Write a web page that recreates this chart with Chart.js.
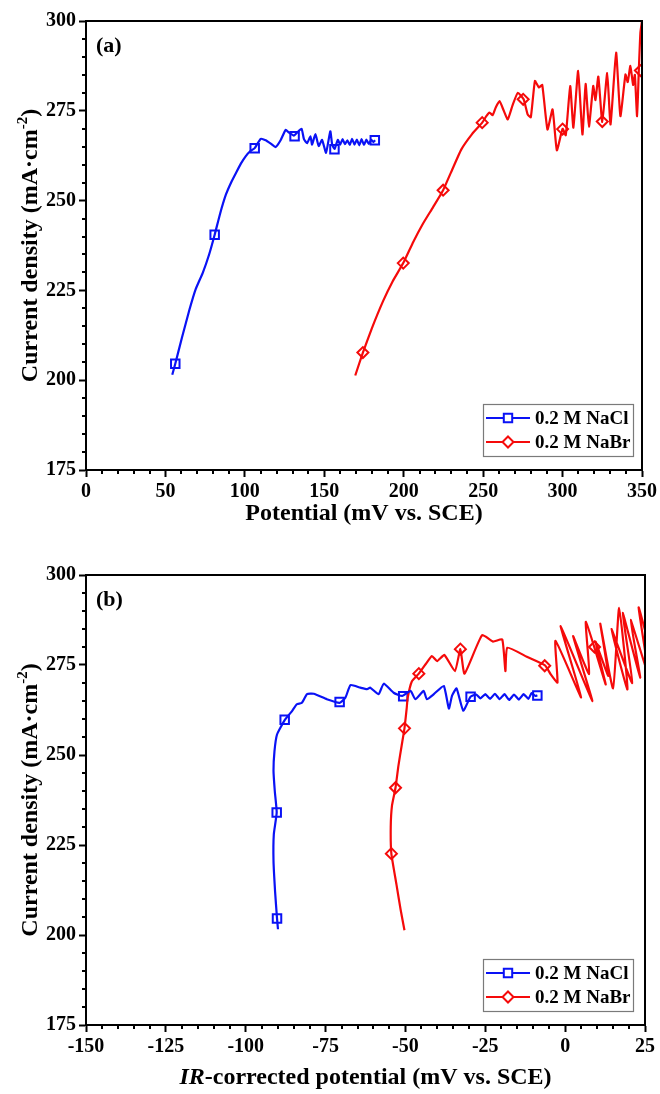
<!DOCTYPE html>
<html>
<head>
<meta charset="utf-8">
<script src="https://cdn.jsdelivr.net/npm/chart.js@4.4.1/dist/chart.umd.min.js"></script>
<style>
html, body { margin: 0; padding: 0; background: #fff; }
#wrap { position: relative; width: 660px; height: 1094px; }
canvas { position: absolute; left: 0; }
</style>
</head>
<body>
<div id="wrap">
  <canvas id="chartA" width="660" height="547" style="top:0"></canvas>
  <canvas id="chartB" width="660" height="547" style="top:547px"></canvas>
</div>
<script>
// axis ticks
const currentTicks = [175, 200, 225, 250, 275, 300];
const potentialTicks = [0, 50, 100, 150, 200, 250, 300, 350];
const irPotentialTicks = [-150, -125, -100, -75, -50, -25, 0, 25];
const seriesNames = ["0.2 M NaCl", "0.2 M NaBr"];

// (a) 0.2 M NaCl, potential vs current density
const naclPotA = [54.3, 56.2, 60.5, 65.1, 69, 73.5, 77.5, 81, 84.5, 88.1, 91.5, 94.4, 97.5, 100.6, 103.5, 106.2,
    110, 113.1, 116.5, 119.4, 122.5, 125.7, 127.8, 130.9, 133, 135.7, 137.2, 139.2, 141.3, 142.3, 144.4, 146.5,
    148.6, 151.1, 153.8, 155, 156.5, 158.5, 160, 161.5, 163, 164.5, 166, 167.5, 169, 170.5, 172, 173.5, 175,
    176.5, 178, 179.5, 181, 182];
const naclCurA = [201.5, 204.6, 212, 219.6, 225.3, 229.9, 235, 240.5, 246.5, 251.7, 255.2, 257.7, 260.3, 262.4, 263.8, 264.6,
    267.2, 266.8, 265.8, 264.9, 266.8, 269.7, 268.9, 268.1, 269, 270, 267.1, 266, 267.9, 265.6, 268.5, 265.2,
    266.9, 263.3, 269.3, 265.5, 264.4, 266.9, 265.6, 267.1, 265.7, 266.8, 265.5, 267.2, 265.6, 267, 265.4, 267.1, 265.5,
    267, 265.8, 266.9, 266.3, 266.8];
const naclMarkPotA = [56.2, 81, 106.2, 131.3, 156.4, 181.8];
const naclMarkCurA = [204.6, 240.5, 264.6, 267.9, 264.3, 266.8];

// (a) 0.2 M NaBr
const nabrPotA = [169.5, 174.3, 180, 187, 193, 199.7, 206, 212, 218.5, 224.8, 230.5, 236.2, 243, 249.4, 252, 254, 256, 258,
    260.3, 263, 265.5, 268.5, 271.8, 275.5, 278, 280, 282.6, 285.1, 287.2, 290.5, 293.7, 296.4, 300, 302, 304.8, 306.8,
    309.8, 312.5, 314.5, 316.6, 319.3, 320.7, 322.5, 325, 328.1, 330.2, 333.7, 336.4, 339.6, 341, 342.7, 344.4, 345.5,
    346.9, 348, 349, 350];
const nabrCurA = [201.3, 207.7, 214.5, 222, 227.5, 232.6, 238.5, 243.5, 248.2, 252.9, 258.6, 264.2, 268.5, 271.7, 273.5, 274.5, 273.8, 276,
    277.7, 275, 272.6, 276.5, 280, 278.2, 274, 273.2, 283.3, 281.5, 282.2, 269.8, 275.4, 264, 270, 268.2, 281.9, 270.3,
    286.1, 268.4, 282.5, 270.6, 281.9, 278, 284.5, 271.9, 285.5, 271.2, 291.2, 273.5, 285.1, 283, 287.5, 282.2, 285,
    273.5, 286.3, 296.8, 300];
const nabrMarkPotA = [174.3, 199.7, 224.8, 249.4, 275.2, 300, 325, 349];
const nabrMarkCurA = [207.7, 232.6, 252.9, 271.7, 278.2, 269.9, 272, 286.2];

// (b) 0.2 M NaCl, IR-corrected potential vs current density
const naclPotB = [-89.9, -90.2, -90.8, -91.3, -91.2, -90.3, -90.9, -91.3, -91, -90.2, -87.8, -85.5, -84, -82.4, -80.8, -78.7,
    -74.6, -70.6, -68.8, -67.2, -64.1, -62, -61, -58.4, -56.8, -53.7, -51, -48.4, -46.9, -44.3, -43.3, -41.1, -38, -36.4,
    -35.4, -34, -31.9, -29.6, -27.8, -26.5, -25, -23.5, -22, -20.5, -19, -17.5, -16, -14.5, -13, -11.5, -10.5, -9.3, -8.7];
const naclCurB = [201.6, 204.6, 212, 220.6, 228, 234, 240, 245.6, 251, 255.7, 259.7, 262.2, 264.1, 264.5, 266.9, 267,
    265.5, 264.5, 265.9, 269.4, 268.7, 268.3, 268.7, 266.9, 269.8, 267.3, 266.4, 267.8, 265.5, 267.8, 265.5, 266.9, 269.2, 262.9,
    266.5, 268.5, 262.3, 266.2, 266.8, 265.7, 266.9, 265.6, 267, 265.5, 266.9, 265.3, 266.8, 265.4, 266.9, 265.6, 267.2, 266.4, 266.6];
const naclMarkPotB = [-90.2, -90.3, -87.8, -70.6, -50.7, -29.6, -8.7];
const naclMarkCurB = [204.6, 234, 259.8, 264.7, 266.3, 266.2, 266.5];

// (b) 0.2 M NaBr
const nabrPotB = [-50.3, -51.5, -52.8, -54.4, -54.6, -54.2, -53.1, -52.2, -51.2, -50.3, -49.6, -49.3, -48, -45.8, -43.7, -41.7,
    -40.1, -37.8, -34.5, -32.8, -31.5, -26, -22.6, -19.7, -18.7, -18.1, -12, -6.3, -4.5, -2.4,
    -3, 5, -1.4, 8.5, 2.5, 7.5, 6.5, 12.7, 9.5, 13.5, 11, 15, 16.9, 19.5, 14.5, 21, 18, 23.5, 20.5, 26, 23, 27];
const nabrCurB = [201.3, 207, 214, 222.6, 230, 236, 240.9, 247, 252.5, 257.4, 263, 265.9, 270.4, 272.6, 275.2, 277.5,
    276.1, 277.8, 273.3, 279.4, 272.6, 283.3, 281.5, 282.1, 273.3, 279.8, 277.3, 274.9, 272.4, 270.1,
    281.7, 266, 285.8, 265, 283, 272.5, 287, 269.6, 281.5, 272, 286.5, 268.5, 290.9, 268.2, 285, 270, 289.5, 271.5, 287.5, 272.5, 291, 278];
const nabrMarkPotB = [-54.4, -53.1, -50.3, -45.8, -32.8, -6.4, 9.2];
const nabrMarkCurB = [222.6, 240.9, 257.4, 272.6, 279.4, 274.8, 280];

const BLUE = "#0a12f5";
const RED = "#f50a0a";
const SERIF = "'Liberation Serif', 'Times New Roman', serif";

function toPoints(xs, ys) {
    return xs.map((x, i) => ({ x, y: ys[i] }));
}

function lineSet(xs, ys, color) {
    return {
        data: toPoints(xs, ys),
        showLine: true,
        borderColor: color,
        borderWidth: 2.2,
        borderJoinStyle: "round",
        pointRadius: 0,
        tension: 0.15,
    };
}

function markerSet(xs, ys, color, style) {
    return {
        data: toPoints(xs, ys),
        showLine: false,
        pointStyle: style,
        pointRadius: style === "rect" ? 6 : 5.5,
        pointBorderWidth: 2,
        pointBorderColor: color,
        pointBackgroundColor: "#fff",
        pointHoverRadius: 6,
    };
}

function drawSymbol(ctx, style, x, y, color) {
    ctx.save();
    ctx.strokeStyle = color;
    ctx.fillStyle = "#fff";
    ctx.lineWidth = 2;
    ctx.beginPath();
    if (style === "rect") {
        ctx.rect(x - 4.2, y - 4.2, 8.4, 8.4);
    } else {
        ctx.moveTo(x, y - 5.5);
        ctx.lineTo(x + 5.5, y);
        ctx.lineTo(x, y + 5.5);
        ctx.lineTo(x - 5.5, y);
        ctx.closePath();
    }
    ctx.fill();
    ctx.stroke();
    ctx.restore();
}

const decorPlugin = {
    id: "decor",
    afterDraw(chart, args, opts) {
        const { ctx, chartArea: area, scales } = chart;
        ctx.save();

        // top and right frame
        ctx.strokeStyle = "#000";
        ctx.lineWidth = 2;
        ctx.beginPath();
        ctx.moveTo(area.left - 1, area.top);
        ctx.lineTo(area.right, area.top);
        ctx.lineTo(area.right, area.bottom + 1);
        ctx.stroke();

        // minor ticks
        ctx.lineWidth = 2;
        ctx.beginPath();
        const xs = scales.x;
        for (let v = xs.min; v <= xs.max + 1e-6; v += opts.xMinor) {
            if (Math.abs(v % opts.xMajor) < 1e-6) continue;
            const px = Math.round(xs.getPixelForValue(v));
            ctx.moveTo(px, area.bottom);
            ctx.lineTo(px, area.bottom + 4);
        }
        const ys = scales.y;
        for (let v = ys.min; v <= ys.max + 1e-6; v += 5) {
            if (Math.abs((v - ys.min) % 25) < 1e-6) continue;
            const py = Math.round(ys.getPixelForValue(v));
            ctx.moveTo(area.left - 4, py);
            ctx.lineTo(area.left, py);
        }
        ctx.stroke();

        // panel label
        ctx.fillStyle = "#000";
        ctx.font = `bold 22px ${SERIF}`;
        ctx.textAlign = "left";
        ctx.textBaseline = "middle";
        ctx.fillText(opts.panel, area.left + 10, area.top + 25);

        // y title with superscript
        ctx.save();
        ctx.translate(29, (area.top + area.bottom) / 2);
        ctx.rotate(-Math.PI / 2);
        const bigFont = `bold 24px ${SERIF}`;
        const smallFont = `bold 15px ${SERIF}`;
        const partA = "Current density (mA\u00b7cm";
        const partB = "-2";
        const partC = ")";
        ctx.font = bigFont;
        const wA = ctx.measureText(partA).width;
        const wC = ctx.measureText(partC).width;
        ctx.font = smallFont;
        const wB = ctx.measureText(partB).width;
        let tx = -(wA + wB + wC) / 2;
        ctx.textAlign = "left";
        ctx.textBaseline = "alphabetic";
        ctx.font = bigFont;
        ctx.fillText(partA, tx, 8);
        tx += wA;
        ctx.font = smallFont;
        ctx.fillText(partB, tx, -2);
        tx += wB;
        ctx.font = bigFont;
        ctx.fillText(partC, tx, 8);
        ctx.restore();

        // x title
        const cx = (area.left + area.right) / 2;
        const ty = area.bottom + opts.titleGap;
        ctx.textBaseline = "middle";
        ctx.textAlign = "left";
        ctx.font = `italic bold 24px ${SERIF}`;
        const wi = opts.italicPart ? ctx.measureText(opts.italicPart).width : 0;
        ctx.font = bigFont;
        const wr = ctx.measureText(opts.xTitle).width;
        let sx = cx - (wi + wr) / 2;
        if (opts.italicPart) {
            ctx.font = `italic bold 24px ${SERIF}`;
            ctx.fillText(opts.italicPart, sx, ty);
            sx += wi;
        }
        ctx.font = bigFont;
        ctx.fillText(opts.xTitle, sx, ty);

        // legend
        const boxL = 483, boxR = 633;
        const boxT = area.bottom - 66, boxB = area.bottom - 14;
        ctx.fillStyle = "#fff";
        ctx.fillRect(boxL, boxT, boxR - boxL, boxB - boxT);
        ctx.strokeStyle = "#7a7a7a";
        ctx.lineWidth = 1.2;
        ctx.strokeRect(boxL + 0.5, boxT + 0.5, boxR - boxL, boxB - boxT);
        const entries = [
            { name: seriesNames[0], color: BLUE, style: "rect", y: area.bottom - 52 },
            { name: seriesNames[1], color: RED, style: "rectRot", y: area.bottom - 28 },
        ];
        for (const entry of entries) {
            ctx.strokeStyle = entry.color;
            ctx.lineWidth = 2;
            ctx.beginPath();
            ctx.moveTo(486, entry.y);
            ctx.lineTo(530, entry.y);
            ctx.stroke();
            drawSymbol(ctx, entry.style, 508, entry.y, entry.color);
            ctx.fillStyle = "#000";
            ctx.font = `bold 19px ${SERIF}`;
            ctx.textAlign = "left";
            ctx.textBaseline = "middle";
            ctx.fillText(entry.name, 535, entry.y + 1);
        }

        ctx.restore();
    },
};

function axisOptions(ticks, min, max, extra) {
    return Object.assign({
        type: "linear",
        min,
        max,
        afterBuildTicks: (scale) => {
            scale.ticks = ticks.map((value) => ({ value }));
        },
        border: { display: true, color: "#000", width: 2 },
        grid: {
            display: true,
            drawOnChartArea: false,
            drawTicks: true,
            tickLength: 7,
            tickWidth: 2,
            tickColor: "#000",
        },
        ticks: {
            color: "#000",
            font: { family: SERIF, size: 20, weight: "bold" },
            maxRotation: 0,
            autoSkip: false,
        },
        title: { display: false },
    }, extra);
}

function makeChart(id, cfg) {
    return new Chart(document.getElementById(id), {
        type: "scatter",
        data: { datasets: cfg.datasets },
        options: {
            responsive: false,
            animation: false,
            events: [],
            layout: { padding: { left: 0, right: 15, top: cfg.top, bottom: 0 } },
            plugins: {
                legend: { display: false },
                tooltip: { enabled: false },
                decor: cfg.decor,
            },
            scales: {
                x: axisOptions(cfg.xTicks, cfg.xTicks[0], cfg.xTicks[cfg.xTicks.length - 1], {
                    afterFit: (scale) => { scale.height = cfg.xHeight; },
                }),
                y: axisOptions(currentTicks, 175, 300, {
                    afterFit: (scale) => { scale.width = 86; },
                }),
            },
        },
        plugins: [decorPlugin],
    });
}

makeChart("chartA", {
    top: 21,
    xHeight: 77,
    xTicks: potentialTicks,
    datasets: [
        lineSet(naclPotA, naclCurA, BLUE),
        lineSet(nabrPotA, nabrCurA, RED),
        markerSet(naclMarkPotA, naclMarkCurA, BLUE, "rect"),
        markerSet(nabrMarkPotA, nabrMarkCurA, RED, "rectRot"),
    ],
    decor: { panel: "(a)", xMinor: 10, xMajor: 50, xTitle: "Potential (mV vs. SCE)", italicPart: "", titleGap: 44 },
});

makeChart("chartB", {
    top: 28,
    xHeight: 69,
    xTicks: irPotentialTicks,
    datasets: [
        lineSet(naclPotB, naclCurB, BLUE),
        lineSet(nabrPotB, nabrCurB, RED),
        markerSet(naclMarkPotB, naclMarkCurB, BLUE, "rect"),
        markerSet(nabrMarkPotB, nabrMarkCurB, RED, "rectRot"),
    ],
    decor: { panel: "(b)", xMinor: 5, xMajor: 25, xTitle: "-corrected potential (mV vs. SCE)", italicPart: "IR", titleGap: 53 },
});
</script>
</body>
</html>
